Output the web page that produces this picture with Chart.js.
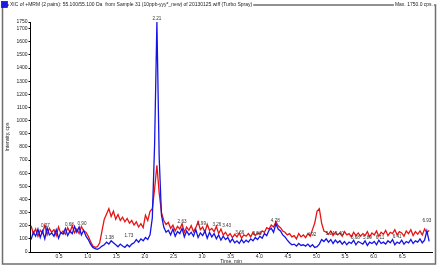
<!DOCTYPE html>
<html>
<head>
<meta charset="utf-8">
<script src="https://cdn.jsdelivr.net/npm/chart.js@4.4.1/dist/chart.umd.min.js"></script>
<style>
  html, body { margin: 0; padding: 0; background: #fff; }
  #wrap { width: 439px; height: 270px; position: relative; }
</style>
</head>
<body>
<div id="wrap"><canvas id="xic"></canvas></div>
<script>
// scans every 0.04 min starting at 0.01 min
const firstScan = 0.01;
const scanStep = 0.04;

// 55.100/55.100 Da, first pair (blue)
const blueCps = [
  95, 150, 120, 175, 110,   160, 100, 185, 130, 145,
  120, 170, 105, 150, 135,  180, 125, 160, 140, 195,
  150, 190, 130, 165, 120,  95, 60, 35, 25, 20,
  30, 45, 55, 75, 60,       85, 70, 55, 40, 60,
  45, 35, 55, 40, 60,       70, 95, 75, 100, 85,
  110, 95, 130, 260, 820,   1750, 720, 280, 190, 150,
  165, 130, 175, 120, 155,  140, 180, 115, 160, 130,
  150, 120, 170, 110, 145,  125, 160, 105, 150, 115,
  140, 100, 130, 90, 120,   95, 110, 75, 100, 70,
  85, 65, 95, 70, 90,       75, 100, 85, 110, 95,
  120, 105, 140, 125, 165,  180, 150, 215, 175, 160,
  130, 115, 90, 70, 55,     60, 45, 65, 50, 55,
  45, 60, 40, 55, 35,       40, 60, 95, 80, 100,
  75, 95, 65, 90, 70,       85, 60, 80, 55, 75,
  65, 90, 55, 80, 70,       60, 85, 50, 75, 65,
  80, 55, 90, 65, 75,       60, 85, 70, 95, 55,
  75, 65, 90, 60, 80,       70, 95, 65, 85, 75,
  100, 70, 90, 160, 80
];

// second pair (red)
const redCps = [
  200, 140, 175, 120, 165,  145, 205, 130, 180, 150,
  170, 125, 190, 140, 160,  135, 185, 150, 200, 145,
  175, 140, 195, 160, 150,  120, 80, 45, 35, 40,
  70, 160, 250, 290, 330,   270, 310, 250, 285, 240,
  265, 230, 255, 220, 240,  205, 230, 190, 215, 185,
  280, 240, 310, 330, 480,  660, 450, 300, 240, 210,
  225, 180, 205, 160, 195,  175, 215, 150, 190, 165,
  200, 155, 185, 230, 170,  190, 150, 210, 165, 180,
  155, 195, 140, 175, 130,  150, 120, 140, 110, 135,
  115, 145, 105, 130, 120,  140, 115, 150, 125, 145,
  135, 160, 150, 185, 175,  205, 190, 230, 200, 185,
  160, 150, 130, 140, 115,  125, 100, 140, 115, 130,
  110, 140, 120, 170, 220,  310, 330, 220, 160, 150,
  135, 160, 125, 150, 130,  145, 120, 155, 130, 140,
  115, 150, 125, 145, 120,  140, 125, 155, 115, 145,
  130, 160, 120, 150, 135,  165, 125, 150, 140, 170,
  130, 155, 145, 120, 160,  140, 170, 125, 155, 135,
  160, 130, 175, 145, 165
];

// retention time labels written on the trace
const peakTimes   = [0.26, 0.68, 0.90, 1.38, 1.72, 2.21, 2.65, 2.99, 3.26, 3.43, 3.66, 3.96, 4.28, 4.92, 5.24, 5.40, 5.68, 5.89, 6.11, 6.41, 6.93];
const peakHeights = [175, 183, 190, 84, 99, 1750, 205, 190, 183, 175, 122, 114, 213, 107, 114, 114, 84, 84, 84, 91, 213];
const peakTexts   = ['0.27', '0.68', '0.90', '1.38', '1.73', '2.21', '2.63', '2.99', '3.26', '3.43', '3.66', '3.96', '4.28', '4.92', '5.24', '5.40', '5.68', '5.89', '6.11', '6.41', '6.93'];

const xTicks = [0.5, 1.0, 1.5, 2.0, 2.5, 3.0, 3.5, 4.0, 4.5, 5.0, 5.5, 6.0, 6.5];
const yTicks = [0, 100, 200, 300, 400, 500, 600, 700, 800, 900, 1000, 1100, 1200, 1300, 1400, 1500, 1600, 1700, 1750];

const headerText = 'XIC of +MRM (2 pairs): 55.100/55.100 Da  from Sample 31 (10ppb-yyy*_new) of 20130125.wiff (Turbo Spray)';
const maxText = 'Max. 1750.0 cps.';

const sampleTimes = blueCps.map((_, i) => +(firstScan + i * scanStep).toFixed(2));
const toPoints = arr => arr.map((v, i) => ({ x: sampleTimes[i], y: v }));

const tinyFont = { family: 'Liberation Sans, Arial, sans-serif', size: 5 };

const decorations = {
  id: 'decorations',
  afterDraw(chart) {
    const ctx = chart.ctx;
    const xs = chart.scales.x, ys = chart.scales.y;
    ctx.save();

    // outer frame
    ctx.strokeStyle = '#6e6e6e';
    ctx.lineWidth = 1.5;
    ctx.strokeRect(2.5, 5, 433, 259);

    ctx.font = '5px "Liberation Sans", Arial, sans-serif';
    ctx.textBaseline = 'middle';

    // header line
    ctx.fillStyle = '#fff';
    const hw = ctx.measureText(headerText).width;
    ctx.fillRect(9, 1.5, hw + 2, 6);
    const mw = ctx.measureText(maxText).width;
    ctx.fillRect(433 - mw - 1, 1.5, mw + 2, 6);
    ctx.fillStyle = '#1a1ae6';
    ctx.fillRect(1.5, 1.5, 6, 6);
    ctx.strokeStyle = '#222';
    ctx.lineWidth = 0.7;
    ctx.strokeRect(1.5, 1.5, 6, 6);
    ctx.fillStyle = '#222';
    ctx.textAlign = 'left';
    ctx.fillText(headerText, 10, 4.5);
    ctx.textAlign = 'right';
    ctx.fillText(maxText, 433, 4.5);

    // axis titles
    ctx.textAlign = 'center';
    ctx.fillText('Time, min', (chart.chartArea.left + chart.chartArea.right) / 2, 261.5);
    ctx.save();
    ctx.translate(8, (chart.chartArea.top + chart.chartArea.bottom) / 2);
    ctx.rotate(-Math.PI / 2);
    ctx.fillText('Intensity, cps', 0, 0);
    ctx.restore();

    // peak labels
    ctx.font = '4.6px "Liberation Sans", Arial, sans-serif';
    ctx.fillStyle = '#333';
    ctx.textBaseline = 'bottom';
    peakTimes.forEach((t, i) => {
      const px = xs.getPixelForValue(t);
      const py = ys.getPixelForValue(peakHeights[i]);
      ctx.fillText(peakTexts[i], px, py - 1);
    });

    ctx.restore();
  }
};

new Chart(document.getElementById('xic'), {
  type: 'line',
  data: {
    datasets: [
      {
        label: 'pair 1',
        data: toPoints(blueCps),
        borderColor: '#1414e6',
        borderWidth: 1.3,
        pointRadius: 0,
        tension: 0
      },
      {
        label: 'pair 2',
        data: toPoints(redCps),
        borderColor: '#e61414',
        borderWidth: 1.3,
        pointRadius: 0,
        tension: 0
      }
    ]
  },
  options: {
    responsive: true,
    maintainAspectRatio: false,
    animation: false,
    events: [],
    layout: { padding: { top: 22, right: 7, left: 0, bottom: 0 } },
    plugins: {
      legend: { display: false },
      tooltip: { enabled: false }
    },
    scales: {
      x: {
        type: 'linear',
        min: 0,
        max: 7.02,
        afterBuildTicks: s => { s.ticks = xTicks.map(v => ({ value: v })); },
        afterFit: s => { s.height = 18; },
        ticks: {
          font: tinyFont,
          color: '#222',
          padding: 0,
          maxRotation: 0,
          autoSkip: false,
          callback: v => v.toFixed(1)
        },
        grid: { display: true, drawOnChartArea: false, drawTicks: true, tickLength: 2, color: '#000' },
        border: { display: true, color: '#000', width: 1 }
      },
      y: {
        min: 0,
        max: 1750,
        afterBuildTicks: s => { s.ticks = yTicks.map(v => ({ value: v })); },
        afterFit: s => { s.width = 30.5; },
        ticks: {
          font: tinyFont,
          color: '#222',
          padding: 1,
          autoSkip: false,
          callback: v => String(v)
        },
        grid: { display: true, drawOnChartArea: false, drawTicks: true, tickLength: 2, color: '#000' },
        border: { display: true, color: '#000', width: 1 }
      }
    }
  },
  plugins: [decorations]
});
</script>
</body>
</html>
